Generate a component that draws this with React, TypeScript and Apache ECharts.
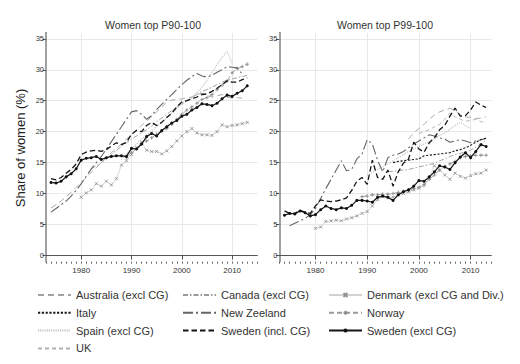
import React, { useEffect, useRef } from 'react';
import * as echarts from 'echarts';

// ---------- tick labels ----------
const xTickYears = [1980, 1990, 2000, 2010];
const yTickValues = [0, 5, 10, 15, 20, 25, 30, 35];

// ---------- Women top P90-100 (left panel) ----------
const p90SwedenExclStart = 1974;
const p90SwedenExcl = [11.8, 11.7, 12.0, 12.7, 13.2, 14.0, 15.4, 15.7, 15.8, 16.0, 15.5, 15.8, 16.0, 16.1, 16.1, 16.0, 17.3, 17.2, 18.0, 19.2, 19.7, 19.3, 20.2, 20.8, 21.4, 21.8, 22.5, 22.8, 23.5, 23.9, 24.5, 24.4, 24.2, 24.6, 25.3, 25.9, 25.7, 26.2, 26.6, 27.4];
const p90SwedenInclStart = 1974;
const p90SwedenIncl = [12.4, 12.2, 12.6, 13.3, 13.9, 14.8, 16.3, 16.7, 16.9, 17.0, 16.8, 17.1, 17.7, 18.2, 17.9, 18.3, 19.6, 20.2, 20.0, 21.0, 21.5, 21.0, 21.5, 22.3, 23.0, 24.0, 24.8, 25.0, 25.3, 25.6, 26.0, 26.1, 26.5, 27.0, 27.6, 28.2, 28.0, 28.0, 28.4, 28.7];
const p90NZStart = 1974;
const p90NZ = [7.0, 7.6, 8.2, 8.8, 9.6, 10.5, 11.6, 12.8, 14.0, 15.0, 16.0, 17.2, 18.4, 19.6, 20.8, 22.0, 23.2, 23.4, 22.8, 22.0, 22.6, 23.6, 24.4, 25.2, 26.0, 26.8, 27.6, 28.3, 28.9, 29.4, 29.0, 28.8, 29.1, 29.6, 30.0, 30.5, 30.4, 30.3, 29.3];
const p90AustraliaStart = 1974;
const p90Australia = [7.7, 8.2, 8.8, 9.5, 10.2, 11.0, 11.8, 12.6, 13.4, 14.2, 15.0, 15.8, 16.6, 17.3, 18.0, 18.8, 19.5, 20.3, 21.0, 21.7, 22.4, 23.2, 24.0, 24.8, 25.1, 25.2, 25.3, 25.5, 25.6, 26.0, 26.2, 25.8, 25.6, 25.8, 26.0, 25.6, 25.4, 25.5, 25.4];
const p90CanadaStart = 1982;
const p90Canada = [14.0, 14.5, 15.0, 15.6, 16.3, 17.0, 17.6, 18.2, 18.8, 19.3, 19.8, 20.3, 20.9, 21.6, 22.2, 22.8, 23.4, 24.0, 24.5, 25.0, 25.5, 26.0, 26.5, 26.8, 27.2, 27.6, 28.0, 28.3, 28.5, 28.7, 28.9, 29.1];
const p90SpainStart = 1988;
const p90Spain = [15.5, 16.4, 17.2, 18.0, 18.8, 19.5, 20.0, 20.8, 21.5, 22.2, 23.0, 23.7, 24.4, 25.0, 25.6, 26.3, 27.2, 28.3, 29.6, 30.8, 32.0, 33.0, 31.0];
const p90DenmarkStart = 1980;
const p90Denmark = [9.4, 10.1, 10.6, 11.6, 11.2, 12.0, 11.4, 12.4, 14.6, 15.3, 16.3, 17.4, 18.3, 17.0, 16.8, 16.8, 16.4, 16.9, 17.6, 18.5, 19.3, 20.0, 20.5, 19.8, 19.5, 19.5, 19.4, 20.0, 21.1, 20.8, 21.0, 21.1, 21.3, 21.5];
const p90NorwayStart = 1989;
const p90Norway = [15.8, 16.6, 17.3, 18.0, 18.5, 19.0, 19.6, 20.0, 20.5, 21.2, 22.0, 22.8, 23.5, 24.0, 24.6, 25.2, 25.5, 26.0, 26.8, 27.5, 28.2, 29.5, 30.2, 30.5, 30.9];

// ---------- Women top P99-100 (right panel) ----------
const p99SwedenExclStart = 1974;
const p99SwedenExcl = [6.5, 6.8, 6.7, 7.2, 6.9, 6.4, 6.6, 7.4, 8.0, 7.6, 7.4, 7.7, 7.6, 8.1, 8.9, 8.9, 8.8, 8.6, 9.4, 9.6, 9.4, 8.9, 9.8, 10.3, 10.6, 11.2, 12.1, 12.0, 12.7, 13.5, 14.5, 14.3, 13.9, 15.0, 15.9, 16.6, 15.8, 16.8, 17.9, 17.6];
const p99SwedenInclStart = 1974;
const p99SwedenIncl = [7.2, 6.8, 6.8, 7.3, 7.0, 6.8, 8.0, 9.0, 8.8, 8.7, 8.8, 9.0, 9.3, 10.5, 12.0, 12.6, 11.5, 15.4, 12.6, 12.3, 13.8, 11.2, 13.5, 14.9, 15.6, 18.3, 17.2, 16.7, 18.2, 19.0, 20.3, 21.0, 22.5, 23.8, 22.5, 22.6, 23.5, 24.8, 24.3, 23.9];
const p99NZStart = 1975;
const p99NZ = [4.8, 5.2, 5.6, 6.0, 6.6, 7.6, 9.2, 10.8, 12.3, 13.8, 15.3, 13.7, 13.9, 15.6, 16.4, 18.7, 18.0, 15.4, 13.5, 15.8, 16.2, 16.4, 16.8, 17.4, 18.0, 18.5, 19.0, 19.5, 19.3, 19.0, 18.8, 18.3, 18.5, 18.7, 18.5, 18.2, 18.5, 18.7, 18.9];
const p99ItalyStart = 1995;
const p99Italy = [15.0, 15.2, 15.3, 15.4, 15.5, 15.6, 16.1, 16.2, 16.3, 16.4, 16.5, 16.6, 16.9, 17.1, 17.4, 17.8, 18.3, 18.7, 19.0];
const p99CanadaStart = 1994;
const p99Canada = [13.5, 13.6, 13.7, 13.8, 13.9, 14.1, 14.3, 14.5, 14.7, 14.9, 15.3, 15.6, 16.0, 16.3, 16.5, 16.7, 17.0, 17.5, 18.0, 18.6];
const p99AustraliaStart = 1998;
const p99Australia = [18.8, 19.8, 20.5, 21.2, 22.0, 22.7, 23.2, 23.5, 23.8, 23.4, 22.7, 22.4, 22.3, 22.1, 22.2, 22.4];
const p99UKStart = 2000;
const p99UK = [19.7, 20.0, 20.3, 20.8, 21.2, 22.0, 23.0, 22.4, 22.0, 21.7, 21.8, 22.0, 21.6, 21.5];
const p99SpainStart = 1990;
const p99Spain = [13.0, 13.4, 13.9, 14.3, 14.8, 15.3, 15.8, 16.3, 16.8, 17.2, 17.6, 18.0, 18.4, 18.9, 19.4, 19.8, 20.4, 21.0, 21.5, 21.0, 20.5];
const p99DenmarkStart = 1980;
const p99Denmark = [4.4, 4.6, 5.5, 5.6, 5.7, 5.6, 5.9, 6.1, 6.4, 6.8, 7.1, 8.0, 9.0, 9.5, 9.3, 9.4, 9.8, 10.0, 10.3, 10.6, 10.9, 11.3, 12.5, 14.5, 13.8, 13.0, 12.3, 13.3, 12.8, 12.5, 12.9, 13.2, 13.3, 13.8];
const p99NorwayStart = 1989;
const p99Norway = [9.5, 9.6, 9.8, 9.8, 9.9, 9.9, 10.0, 10.2, 10.4, 10.6, 10.8, 11.0, 11.5, 12.3, 13.0, 13.8, 14.4, 14.8, 15.2, 15.8, 16.0, 16.1, 16.2, 16.2, 16.2];

// ---------- legend columns ----------
const legendCol1 = ['Australia (excl CG)', 'Italy', 'Spain (excl CG)', 'UK'];
const legendCol2 = ['Canada (excl CG)', 'New Zeeland', 'Sweden (incl. CG)'];
const legendCol3 = ['Denmark (excl CG and Div.)', 'Norway', 'Sweden (excl CG)'];

const FONT = 'Liberation Sans, Arial, Helvetica, sans-serif';

const STY: Record<string, any> = {
  'Australia (excl CG)': { color: '#a2a2a2', type: [6, 4], width: 0.9, z: 2 },
  'Canada (excl CG)': { color: '#999999', type: [5, 2, 1.5, 2], width: 0.9, z: 2 },
  'Denmark (excl CG and Div.)': { color: '#d2d2d2', type: 'solid', width: 0.9, symbol: 'path://M0,0L10,10M10,0L0,10', symbolSize: 3, symColor: '#929292', z: 2 },
  'Italy': { color: '#1a1a1a', type: [2.2, 1.6], width: 1.1, z: 4 },
  'New Zeeland': { color: '#666666', type: [10, 3, 2, 3], width: 1.1, z: 3 },
  'Norway': { color: '#9a9a9a', type: [5, 3], width: 0.9, symbol: 'path://M5,0L5,10M0,5L10,5', symbolSize: 3.5, symColor: '#8c8c8c', z: 2 },
  'Spain (excl CG)': { color: '#b8b8b8', type: [1, 1.2], width: 1.1, z: 2 },
  'Sweden (incl. CG)': { color: '#151515', type: [5.5, 3], width: 1.3, z: 5 },
  'Sweden (excl CG)': { color: '#151515', type: 'solid', width: 1.2, symbol: 'circle', symbolSize: 3, symColor: '#111111', z: 6 },
  'UK': { color: '#b0b0b0', type: [4, 3], width: 0.9, z: 2 },
};

function mk(name: string, panel: number, start: number, vals: number[]) {
  const s = STY[name];
  return {
    type: 'line',
    name,
    xAxisIndex: panel * 2,
    yAxisIndex: panel,
    data: vals.map((v, i) => [start + i, v]),
    symbol: s.symbol || 'none',
    symbolSize: s.symbolSize || 0,
    showSymbol: !!s.symbol,
    lineStyle: { color: s.color, width: s.width, type: s.type },
    itemStyle: s.symbol
      ? { color: s.symColor, borderColor: s.symColor, borderWidth: s.symbol === 'circle' ? 0 : 0.9 }
      : { color: s.color },
    z: s.z,
    silent: true,
    emphasis: { disabled: true },
  };
}

function xAxes(grid: number, max: number) {
  return [
    {
      type: 'value', gridIndex: grid, min: 1973, max, position: 'bottom',
      axisLine: { show: true, lineStyle: { color: '#555', width: 1 } },
      axisTick: { show: true, customValues: xTickYears, length: 4, lineStyle: { color: '#555' } },
      axisLabel: { show: true, customValues: xTickYears, fontSize: 8, color: '#333', margin: 5, fontFamily: FONT, formatter: (v: number) => String(v) },
      splitLine: { show: true, lineStyle: { color: '#e8e8e8', width: 1 } },
    },
    {
      type: 'value', gridIndex: grid, min: 1973, max, interval: 1, position: 'bottom',
      axisLine: { show: false },
      axisTick: { show: true, length: 2, lineStyle: { color: '#666' } },
      axisLabel: { show: false },
      splitLine: { show: false },
    },
  ];
}

function yAxis(grid: number) {
  return {
    type: 'value', gridIndex: grid, min: -1, max: 36,
    axisLine: { show: true, lineStyle: { color: '#8a8a8a', width: 1.6 } },
    axisTick: { show: true, customValues: yTickValues, length: 3.5, lineStyle: { color: '#555' } },
    axisLabel: { show: true, customValues: yTickValues, fontSize: 7.5, color: '#333', margin: 2, fontFamily: FONT },
    splitLine: { show: true, lineStyle: { color: '#e8e8e8', width: 1 } },
  };
}

function legend(left: number, names: string[]) {
  return {
    orient: 'vertical', left, top: 289, height: 75, padding: 0,
    data: names.map((n) => (STY[n].symbol ? { name: n } : { name: n, itemStyle: { opacity: 0 } })),
    itemWidth: 33, itemHeight: 5, itemGap: 5.8,
    selectedMode: false,
    textStyle: { fontSize: 11, color: '#333', fontFamily: FONT, lineHeight: 12 },
  };
}

export default function App() {
  const ref = useRef<HTMLDivElement>(null);
  useEffect(() => {
    const chart = echarts.init(ref.current!, undefined, { renderer: 'svg' });
    const series = [
      mk('Australia (excl CG)', 0, p90AustraliaStart, p90Australia),
      mk('Canada (excl CG)', 0, p90CanadaStart, p90Canada),
      mk('Spain (excl CG)', 0, p90SpainStart, p90Spain),
      mk('Denmark (excl CG and Div.)', 0, p90DenmarkStart, p90Denmark),
      mk('Norway', 0, p90NorwayStart, p90Norway),
      mk('New Zeeland', 0, p90NZStart, p90NZ),
      mk('Sweden (incl. CG)', 0, p90SwedenInclStart, p90SwedenIncl),
      mk('Sweden (excl CG)', 0, p90SwedenExclStart, p90SwedenExcl),
      mk('Australia (excl CG)', 1, p99AustraliaStart, p99Australia),
      mk('UK', 1, p99UKStart, p99UK),
      mk('Canada (excl CG)', 1, p99CanadaStart, p99Canada),
      mk('Spain (excl CG)', 1, p99SpainStart, p99Spain),
      mk('Denmark (excl CG and Div.)', 1, p99DenmarkStart, p99Denmark),
      mk('Norway', 1, p99NorwayStart, p99Norway),
      mk('New Zeeland', 1, p99NZStart, p99NZ),
      mk('Italy', 1, p99ItalyStart, p99Italy),
      mk('Sweden (incl. CG)', 1, p99SwedenInclStart, p99SwedenIncl),
      mk('Sweden (excl CG)', 1, p99SwedenExclStart, p99SwedenExcl),
    ];
    chart.setOption({
      animation: false,
      backgroundColor: '#ffffff',
      grid: [
        { left: 46, top: 32.6, width: 211.3, height: 229.1 },
        { left: 279.3, top: 32.6, width: 212, height: 229.1 },
      ],
      xAxis: [...xAxes(0, 2015), ...xAxes(1, 2014)],
      yAxis: [yAxis(0), yAxis(1)],
      legend: [legend(37, legendCol1), legend(182, legendCol2), legend(328, legendCol3)],
      graphic: [
        { type: 'text', x: 153, y: 25, silent: true, style: { text: 'Women top P90-100', font: `10.5px ${FONT}`, fill: '#333', textAlign: 'center', textVerticalAlign: 'middle' } },
        { type: 'text', x: 385, y: 25, silent: true, style: { text: 'Women top P99-100', font: `10.5px ${FONT}`, fill: '#333', textAlign: 'center', textVerticalAlign: 'middle' } },
        { type: 'text', x: 20, y: 148, rotation: Math.PI / 2, silent: true, style: { text: 'Share of women (%)', font: `13px ${FONT}`, fill: '#222', textAlign: 'center', textVerticalAlign: 'middle' } },
      ],
      series,
    });
    return () => chart.dispose();
  }, []);
  return <div ref={ref} style={{ position: 'fixed', left: 0, top: 0, width: 520, height: 364, background: '#fff' }} />;
}
